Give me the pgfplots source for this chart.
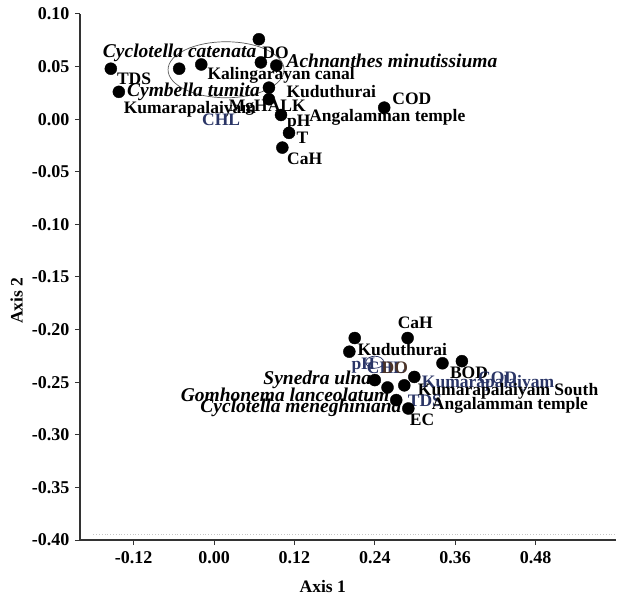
\documentclass[border=0pt]{standalone}
\usepackage{fontspec}
\setmainfont{Liberation Serif}
\usepackage{pgfplots}
\pgfplotsset{compat=1.18}
\definecolor{LabNavy}{HTML}{2A3566}
\definecolor{LabBrown}{HTML}{4A3328}

\begin{document}
\begin{tikzpicture}[
  lab/.style={font=\bfseries\fontsize{17.5}{17.5}\selectfont, inner sep=0pt},
  spc/.style={font=\bfseries\itshape\fontsize{19.5}{19.5}\selectfont, inner sep=0pt}]
\begin{axis}[name=ax,
  scale only axis, width=536pt, height=526pt,
  xmin=-0.2, xmax=0.6, ymin=-0.40, ymax=0.10,
  axis x line=bottom, axis y line=left,
  axis line style={-, line width=1.5pt, black!80},
  xtick={-0.12,0,0.12,0.24,0.36,0.48},
  ytick={-0.40,-0.35,-0.30,-0.25,-0.20,-0.15,-0.10,-0.05,0,0.05,0.10},
  tick align=outside, major tick length=5pt,
  tick style={line width=1pt, black!80},
  ticklabel style={font=\bfseries\fontsize{18}{18}\selectfont},
  /pgf/number format/.cd, fixed, fixed zerofill, precision=2, assume math mode=true,
  /pgfplots/.cd,
  xticklabel style={yshift=-3pt},
  yticklabel style={xshift=-2pt},
  xlabel={Axis 1}, ylabel={Axis 2},
  label style={font=\bfseries\fontsize{17.5}{17.5}\selectfont},
  xlabel style={at={(axis description cs:0.453,-0.0875)}, anchor=center},
  ylabel style={at={(axis description cs:-0.118,0.455)}, anchor=center},
  clip=false,
]
% faint dotted guide near the bottom
\addplot[gray!45, dotted, line width=0.8pt] coordinates {(-0.18,-0.395) (0.6,-0.395)};

% top cluster
\addplot[only marks, mark=*, mark size=6pt, black] table {
x y
0.067 0.076
-0.154 0.048
-0.142 0.026
-0.052 0.048
-0.019 0.052
0.070 0.054
0.093 0.051
0.082 0.030
0.082 0.019
0.100 0.004
0.112 -0.013
0.102 -0.027
0.254 0.011
};
% bottom cluster
\addplot[only marks, mark=*, mark size=6pt, black] table {
x y
0.210 -0.208
0.289 -0.208
0.202 -0.221
0.240 -0.248
0.259 -0.255
0.284 -0.253
0.272 -0.267
0.299 -0.245
0.290 -0.275
0.341 -0.232
0.370 -0.230
};

\draw[black!65, line width=0.7pt] (axis cs:0.018,0.047) ellipse [x radius=58pt, y radius=28pt];
\draw[LabNavy, line width=0.7pt] (axis cs:0.240,-0.231) ellipse [x radius=9pt, y radius=6pt];

% top labels
\node[spc,anchor=west] at (axis cs:-0.166,0.063) {Cyclotella catenata};
\node[lab,anchor=west] at (axis cs:0.072,0.063) {DO};
\node[spc,anchor=west] at (axis cs:0.108,0.055) {Achnanthes minutissiuma};
\node[lab,anchor=west] at (axis cs:-0.145,0.038) {TDS};
\node[lab,anchor=west] at (axis cs:-0.010,0.042) {Kalingarayan canal};
\node[spc,anchor=west] at (axis cs:-0.130,0.026) {Cymbella tumita};
\node[lab,anchor=west] at (axis cs:0.108,0.026) {Kuduthurai};
\node[lab,anchor=west] at (axis cs:-0.135,0.009) {Kumarapalaiyam};
\node[lab,anchor=west] at (axis cs:0.022,0.011) {MgHALK};
\node[lab,anchor=west,LabNavy] at (axis cs:-0.018,-0.0005) {CHL};
\node[lab,anchor=west] at (axis cs:0.109,-0.003) {pH};
\node[lab,anchor=west] at (axis cs:0.142,0.002) {Angalamman temple};
\node[lab,anchor=west] at (axis cs:0.123,-0.018) {T};
\node[lab,anchor=west] at (axis cs:0.109,-0.038) {CaH};
\node[lab,anchor=west] at (axis cs:0.266,0.019) {COD};

% bottom labels
\node[lab,anchor=west] at (axis cs:0.274,-0.194) {CaH};
\node[lab,anchor=west] at (axis cs:0.214,-0.219) {Kuduthurai};
\node[lab,anchor=west,LabNavy] at (axis cs:0.205,-0.234) {pH};
\node[lab,anchor=west,LabNavy] at (axis cs:0.228,-0.236) {CHL};
\node[lab,anchor=west,LabBrown] at (axis cs:0.250,-0.236) {DO};
\node[spc,anchor=east] at (axis cs:0.235,-0.248) {Synedra ulna};
\node[spc,anchor=east] at (axis cs:0.262,-0.262) {Gomhonema lanceolatum};
\node[spc,anchor=east] at (axis cs:0.280,-0.274) {Cyclotella meneghiniana};
\node[lab,anchor=west] at (axis cs:0.352,-0.241) {BOD};
\node[lab,anchor=west,LabNavy] at (axis cs:0.394,-0.246) {COD};
\node[lab,anchor=west,LabNavy] at (axis cs:0.310,-0.251) {Kumarapalaiyam};
\node[lab,anchor=west] at (axis cs:0.304,-0.259) {Kumarapalaiyam South};
\node[lab,anchor=west,LabNavy] at (axis cs:0.289,-0.268) {TDS};
\node[lab,anchor=west] at (axis cs:0.325,-0.272) {Angalamman temple};
\node[lab,anchor=west] at (axis cs:0.292,-0.286) {EC};
\end{axis}
\pgfresetboundingbox
\path (ax.south west) ++(-80pt,-56pt) rectangle ++(617pt,596pt);
\end{tikzpicture}
\end{document}
